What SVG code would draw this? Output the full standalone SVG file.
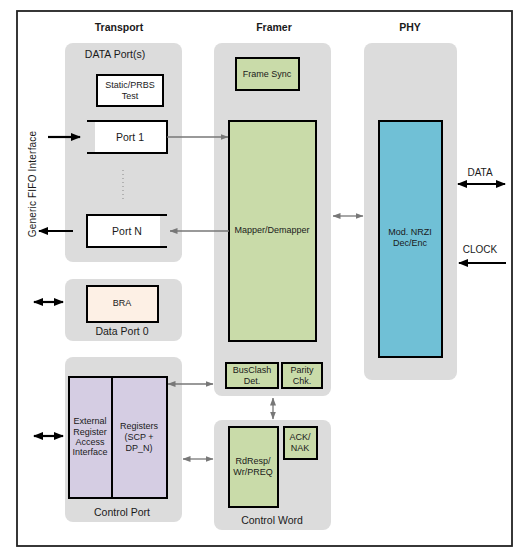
<svg xmlns="http://www.w3.org/2000/svg" width="519" height="553" viewBox="0 0 519 553">
<defs>
<style>
text{font-family:"Liberation Sans",Arial,sans-serif;fill:#1a1a1a;text-anchor:middle;dominant-baseline:central}
.hdr{font-size:10.5px;font-weight:bold}
.pl{font-size:10.5px}
.bl{font-size:9px}
.panel{fill:#dcdcdc}
.box{stroke:#000;stroke-width:2}
.green{fill:#c9dba9}
.white{fill:#fff}
.purple{fill:#d5cde3}
.blue{fill:#70c0d6}
.peach{fill:#fdf0e5}
.blk{stroke:#000;stroke-width:2.2;fill:none}
.gry{stroke:#777;stroke-width:1.3;fill:none}
</style>
<marker id="mb" viewBox="0 0 10 8" refX="9" refY="4" markerWidth="10" markerHeight="8" markerUnits="userSpaceOnUse" orient="auto-start-reverse"><path d="M0,0 L10,4 L0,8 z" fill="#000"/></marker>
<marker id="mg" viewBox="0 0 8 6" refX="7.5" refY="3" markerWidth="8" markerHeight="6" markerUnits="userSpaceOnUse" orient="auto-start-reverse"><path d="M0,0 L8,3 L0,6 z" fill="#777"/></marker>
</defs>
<rect x="0" y="0" width="519" height="553" fill="#fff"/>
<rect x="17" y="11" width="495" height="535" fill="#fff" stroke="#222" stroke-width="1.8"/>

<text class="hdr" x="119" y="27">Transport</text>
<text class="hdr" x="274" y="27">Framer</text>
<text class="hdr" x="410" y="27">PHY</text>

<g id="data-ports">
<rect class="panel" x="65" y="43" width="117" height="219" rx="8"/>
<text class="pl" x="115" y="54">DATA Port(s)</text>
</g>
<g id="static-prbs">
<rect class="box white" x="97" y="75" width="66" height="31"/>
<text class="bl" x="130" y="85">Static/PRBS</text>
<text class="bl" x="130" y="96">Test</text>
</g>
<g id="port-1">
<rect class="white" x="95" y="121" width="72" height="32"/>
<path d="M87,121 H167 V153 H87" fill="none" stroke="#000" stroke-width="2"/>
<text class="pl" x="130" y="137">Port 1</text>
</g>
<line x1="123" y1="170" x2="123" y2="202" stroke="#888" stroke-width="1" stroke-dasharray="1,3"/>
<g id="port-n">
<rect class="white" x="87" y="215" width="73" height="32"/>
<path d="M167,215 H87 V247 H167" fill="none" stroke="#000" stroke-width="2"/>
<text class="pl" x="127" y="231">Port N</text>
</g>
<text class="bl" x="0" y="0" transform="translate(32,184) rotate(-90)" style="font-size:10px" letter-spacing="0.2">Generic FIFO Interface</text>

<g id="data-port-0">
<rect class="panel" x="65" y="279" width="117" height="62" rx="8"/>
<text class="pl" x="122" y="331">Data Port 0</text>
</g>
<g id="bra">
<rect class="box peach" x="87" y="286" width="71" height="36"/>
<text class="bl" x="122" y="303">BRA</text>
</g>

<g id="control-port">
<rect class="panel" x="65" y="357" width="117" height="165" rx="8"/>
<text class="pl" x="122" y="512">Control Port</text>
</g>
<g id="ext-reg">
<rect class="box purple" x="69" y="377" width="43" height="121"/>
<text class="bl" x="90" y="421">External</text>
<text class="bl" x="90" y="432">Register</text>
<text class="bl" x="90" y="442">Access</text>
<text class="bl" x="90" y="452">Interface</text>
</g>
<g id="registers">
<rect class="box purple" x="112" y="377" width="55" height="121"/>
<text class="bl" x="139" y="426">Registers</text>
<text class="bl" x="139" y="437">(SCP +</text>
<text class="bl" x="139" y="448">DP_N)</text>
</g>

<g id="framer">
<rect class="panel" x="214" y="43" width="117" height="353" rx="8"/>
</g>
<g id="frame-sync">
<rect class="box green" x="236" y="58" width="63" height="32"/>
<text class="bl" x="267" y="74">Frame Sync</text>
</g>
<g id="mapper">
<rect class="box green" x="229" y="121" width="87" height="220"/>
<text class="bl" x="272" y="230">Mapper/Demapper</text>
</g>
<g id="busclash">
<rect class="box green" x="226" y="363" width="52" height="25"/>
<text class="bl" x="252" y="370">BusClash</text>
<text class="bl" x="252" y="381">Det.</text>
</g>
<g id="parity">
<rect class="box green" x="282" y="363" width="40" height="25"/>
<text class="bl" x="302" y="370">Parity</text>
<text class="bl" x="302" y="381">Chk.</text>
</g>

<g id="control-word">
<rect class="panel" x="214" y="420" width="117" height="110" rx="8"/>
<text class="pl" x="272" y="520">Control Word</text>
</g>
<g id="rdresp">
<rect class="box green" x="229" y="427" width="49" height="80"/>
<text class="bl" x="253" y="461">RdResp/</text>
<text class="bl" x="253" y="472">Wr/PREQ</text>
</g>
<g id="ack-nak">
<rect class="box green" x="284" y="427" width="33" height="32"/>
<text class="bl" x="300" y="437">ACK/</text>
<text class="bl" x="300" y="448">NAK</text>
</g>

<g id="phy">
<rect class="panel" x="364" y="43" width="93" height="337" rx="8"/>
</g>
<g id="nrzi">
<rect class="box blue" x="379" y="121" width="63" height="236"/>
<text class="bl" x="410" y="232">Mod. NRZI</text>
<text class="bl" x="410" y="243">Dec/Enc</text>
</g>

<text class="pl" x="480" y="172" style="font-size:10px">DATA</text>
<text class="pl" x="480" y="249" style="font-size:10px">CLOCK</text>

<g id="connectors">
<line class="blk" x1="48" y1="137" x2="80" y2="137" marker-end="url(#mb)"/>
<line class="blk" x1="73" y1="231" x2="39" y2="231" marker-end="url(#mb)"/>
<line class="blk" x1="34" y1="302" x2="63" y2="302" marker-start="url(#mb)" marker-end="url(#mb)"/>
<line class="blk" x1="34" y1="436" x2="63" y2="436" marker-start="url(#mb)" marker-end="url(#mb)"/>
<line class="blk" x1="458" y1="184" x2="505" y2="184" marker-start="url(#mb)" marker-end="url(#mb)"/>
<line class="blk" x1="506" y1="263" x2="459" y2="263" marker-end="url(#mb)"/>
<line class="gry" x1="167" y1="137" x2="228" y2="137" marker-end="url(#mg)"/>
<line class="gry" x1="229" y1="231" x2="170" y2="231" marker-end="url(#mg)"/>
<line class="gry" x1="333" y1="216" x2="363" y2="216" marker-start="url(#mg)" marker-end="url(#mg)"/>
<line class="gry" x1="168" y1="384" x2="213" y2="384" marker-start="url(#mg)" marker-end="url(#mg)"/>
<line class="gry" x1="183" y1="459" x2="213" y2="459" marker-start="url(#mg)" marker-end="url(#mg)"/>
<line class="gry" x1="273" y1="398" x2="273" y2="419" marker-start="url(#mg)" marker-end="url(#mg)"/>
</g>
</svg>
